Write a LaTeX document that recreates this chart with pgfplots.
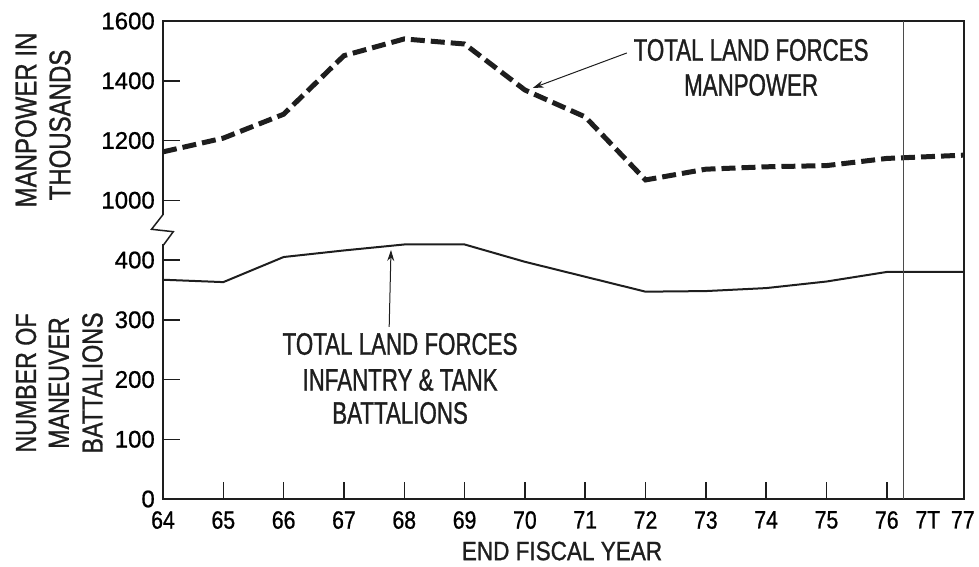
\documentclass[border=0pt]{standalone}
\usepackage{fontspec}
\setmainfont{Liberation Sans}
\newfontfamily\ytickfont[FakeBold=0.8]{Liberation Sans}
\newfontfamily\tickfont[FakeStretch=0.85,FakeBold=0.8]{Liberation Sans}
\newfontfamily\labfont[FakeStretch=0.8,FakeBold=1]{Liberation Sans}
\newfontfamily\xlabfont[FakeStretch=0.85,FakeBold=1]{Liberation Sans}
\newfontfamily\annfont[FakeStretch=0.72,FakeBold=1]{Liberation Sans}
\usepackage{pgfplots}
\pgfplotsset{compat=1.18}
\usetikzlibrary{arrows.meta}
\definecolor{ink}{RGB}{30,30,30}
\begin{document}
\begin{tikzpicture}
\begin{axis}[
  at={(0,0)}, anchor=south west,
  width=801pt, height=478pt, scale only axis,
  xmin=64, xmax=77.28, ymin=0, ymax=8,
  clip=false,
  axis line style={line width=1.5pt, ink},
  tick style={line width=1.5pt, ink},
  tick align=inside, major tick length=17pt,
  xtick pos=bottom, ytick pos=left,
  xtick={64,65,66,67,68,69,70,71,72,73,74,75,76},
  xticklabels={64,65,66,67,68,69,70,71,72,73,74,75,76},
  ytick={0,1,2,3,4,5,6,7,8},
  yticklabels={0,100,200,300,400,1000,1200,1400,1600},
  extra x ticks={76.68,77.26},
  extra x tick labels={7T,77},
  extra x tick style={major tick length=0pt},
  xticklabel style={font=\tickfont\fontsize{25}{28}\selectfont, inner sep=0pt, anchor=north, yshift=-12pt},
  yticklabel style={font=\ytickfont\fontsize{24}{27}\selectfont, inner sep=0pt, anchor=east, xshift=-8pt},
]
% Total land forces manpower (thousands)
\addplot[ink, line width=5pt, dash pattern=on 14pt off 6pt] table[x=x, y expr={5+(\thisrow{v}-1000)/200}] {
x v
64 1162
65 1208
66 1288
67 1484
68 1540
69 1523
70 1369
71 1279
72 1068
73 1104
74 1112
75 1116
76 1140
77.28 1151
};
% Infantry & tank battalions
\addplot[ink, line width=2pt] table[x=x, y expr={\thisrow{v}/100}] {
x v
64 367
65 363
66 405
67 416
68 426
69 426
70 397
71 372
72 347
73 348
74 353
75 364
76 380
77.28 380
};
% transition-quarter divider
\draw[ink!80, line width=1pt] (axis cs:76.27,0) -- (axis cs:76.27,8);
% scale break
\fill[white] (axis cs:63.95,4.26) rectangle (axis cs:64.05,4.75);
\draw[ink, line width=1.5pt] (axis cs:64,4.76) -- (axis cs:63.81,4.514) -- (axis cs:64.17,4.474) -- (axis cs:64,4.24);
% annotations
\node[font=\annfont\fontsize{31}{34}\selectfont, ink] at (axis cs:73.75,7.515) {TOTAL LAND FORCES};
\node[font=\annfont\fontsize{31}{34}\selectfont, ink] at (axis cs:73.75,6.93) {MANPOWER};
\draw[ink, line width=1pt, -{Stealth[length=11pt,width=7pt]}] (axis cs:71.69,7.465) -- (axis cs:70.13,6.879);
\node[font=\annfont\fontsize{31}{34}\selectfont, ink] at (axis cs:67.93,2.594) {TOTAL LAND FORCES};
\node[font=\annfont\fontsize{31}{34}\selectfont, ink] at (axis cs:67.93,1.992) {INFANTRY \& TANK};
\node[font=\annfont\fontsize{31}{34}\selectfont, ink] at (axis cs:67.93,1.439) {BATTALIONS};
\draw[ink, line width=1pt, -{Stealth[length=11pt,width=7pt]}] (axis cs:67.75,2.879) -- (axis cs:67.78,4.167);
\end{axis}
% axis titles
\node[rotate=90, font=\labfont\fontsize{30}{33}\selectfont, ink] at (-137pt,379pt) {MANPOWER IN};
\node[rotate=90, font=\labfont\fontsize{30}{33}\selectfont, ink] at (-103pt,374pt) {THOUSANDS};
\node[rotate=90, font=\labfont\fontsize{29}{32}\selectfont, ink] at (-137pt,116pt) {NUMBER OF};
\node[rotate=90, font=\labfont\fontsize{29}{32}\selectfont, ink] at (-104pt,116pt) {MANEUVER};
\node[rotate=90, font=\labfont\fontsize{29}{32}\selectfont, ink] at (-70.5pt,116pt) {BATTALIONS};
\node[font=\xlabfont\fontsize{26.5}{29}\selectfont, ink] at (399pt,-52pt) {END FISCAL YEAR};
\pgfresetboundingbox
\path[use as bounding box] (-163pt,-67pt) rectangle (816pt,499pt);
\end{tikzpicture}
\end{document}
